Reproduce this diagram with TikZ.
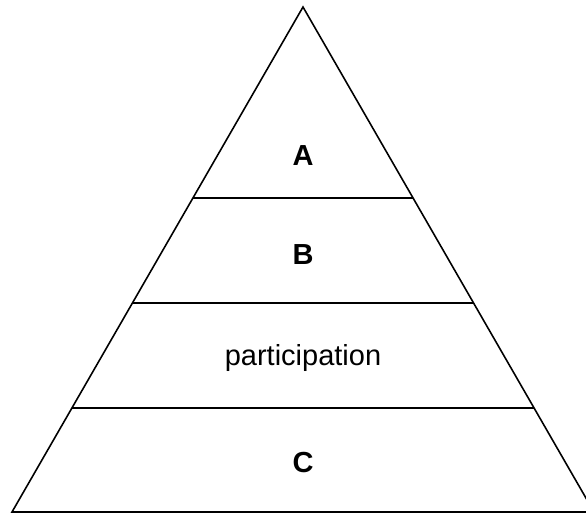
\documentclass[tikz,border=0pt]{standalone}
\usepackage{fontspec}
\setmainfont{Liberation Sans}
\usetikzlibrary{calc}

\begin{document}
\begin{tikzpicture}[x=0.02cm, y=-0.02cm, line width=0.9pt, every node/.style={font=\fontsize{16.5}{19}\selectfont}]
  \useasboundingbox (0,0) rectangle (586,513);
  % outline
  \coordinate (apex) at (303,7);
  \coordinate (baseleft) at (12,512);
  \coordinate (baseright) at (594,512);
  \draw[line join=miter] (baseleft) -- (apex) -- (baseright) -- cycle;
  % level lines
  \foreach \lv/\yy in {one/198, two/303, three/408} {
    \draw ($(baseleft)!{(512-\yy)/505}!(apex)$) -- ($(baseright)!{(512-\yy)/505}!(apex)$);
  }
  % labels
  \node (levA) at (303,156) {\textbf{A}};
  \node (levB) at (303,255) {\textbf{B}};
  \node (levpart) at (303,358) {participation};
  \node (levC) at (303,463) {\textbf{C}};
\end{tikzpicture}
\end{document}
